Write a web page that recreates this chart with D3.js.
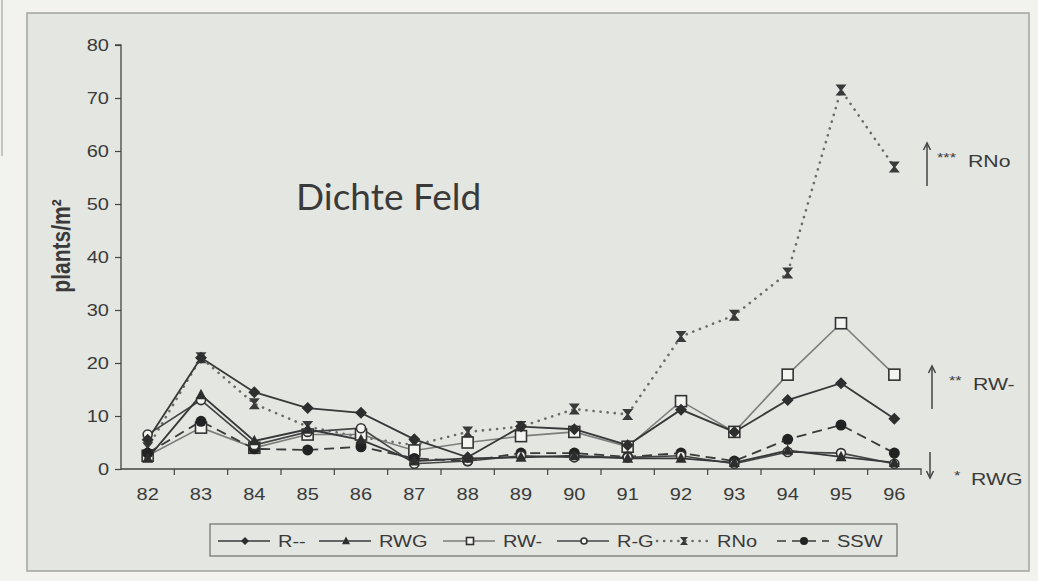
<!DOCTYPE html>
<html>
<head>
<meta charset="utf-8">
<script src="https://cdn.jsdelivr.net/npm/d3@7/dist/d3.min.js"></script>
<style>
  html, body { margin: 0; padding: 0; background: #f2f2ef; }
  svg { display: block; }
  text { font-family: "Liberation Sans", Arial, sans-serif; fill: #3a3a3a; }
</style>
</head>
<body>
<svg id="chart" width="1038" height="581"></svg>
<script>
// Years of observation (x categories)
const years = ["82","83","84","85","86","87","88","89","90","91","92","93","94","95","96"];
// Plant density per treatment, plants/m²
const rMinus = [5.5, 21, 14.5, 11.5, 10.6, 5.6, 2.2, 8.0, 7.5, 4.5, 11.2, 7.0, 13.0, 16.2, 9.5];
const rwg    = [2.0, 14, 5.3, 7.5, 5.5, 1.5, 2.0, 2.2, 2.5, 2.0, 2.0, 1.2, 3.5, 2.3, 1.2];
const rwMinus= [2.5, 7.8, 4.0, 6.5, 6.5, 3.5, 5.0, 6.2, 7.0, 4.2, 12.8, 7.0, 17.8, 27.5, 17.8];
const rg     = [6.5, 13, 4.5, 7.0, 7.7, 1.0, 1.5, 2.5, 2.2, 2.2, 2.5, 1.0, 3.2, 3.0, 1.0];
const rno    = [4.0, 21, 12.3, 8.0, 6.0, 4.5, 7.0, 8.0, 11.3, 10.3, 25, 29, 37, 71.5, 57];
const ssw    = [3.0, 9.0, 3.8, 3.6, 4.2, 2.0, 1.5, 3.0, 3.0, 2.3, 3.0, 1.5, 5.6, 8.3, 3.0];
const seriesNames = ["R--", "RWG", "RW-", "R-G", "RNo", "SSW"];
const yTicks = [0, 10, 20, 30, 40, 50, 60, 70, 80];
const title = "Dichte Feld";
const yLabel = "plants/m²";
// Significance notes at the right margin
const notes = [
  { stars: "***", name: "RNo", dir: "up" },
  { stars: "**",  name: "RW-", dir: "up" },
  { stars: "*",   name: "RWG", dir: "down" }
];

const svg = d3.select("#chart");
const SX = 1.25; // horizontal text stretch

const x = d3.scaleBand().domain(years).range([121, 921]).padding(0);
const y = d3.scaleLinear().domain([0, 80]).range([469, 45]);
const cx = d => x(d) + x.bandwidth() / 2;

// panel frame
svg.append("line").attr("x1", 2).attr("x2", 2).attr("y1", 0).attr("y2", 156)
  .attr("stroke", "#b5b5b2").attr("stroke-width", 1.5);
svg.append("rect").attr("x", 27).attr("y", 13).attr("width", 1002).attr("height", 558)
  .attr("fill", "#e4e6e1").attr("stroke", "#a3a3a0").attr("stroke-width", 1.5);

// y axis
const gy = svg.append("g").attr("transform", "translate(121,0)")
  .call(d3.axisLeft(y).tickValues(yTicks).tickSize(6).tickPadding(0).tickFormat(d3.format("d")));
gy.select(".domain").attr("stroke", "#444").attr("stroke-width", 1.3).attr("d", "M-6,45H0V470");
gy.selectAll(".tick line").attr("stroke", "#444").attr("stroke-width", 1.2);
gy.selectAll(".tick text")
  .attr("x", -12 / SX).attr("transform", `scale(${SX},1)`)
  .style("font-size", "16px").attr("fill", "#3f3f3f");

// x axis: labels at band centres, ticks at band boundaries
const gx = svg.append("g").attr("transform", "translate(0,469)");
gx.call(d3.axisBottom(x).tickSize(0).tickPadding(20));
gx.select(".domain").attr("stroke", "#444").attr("stroke-width", 1.3).attr("d", "M121,0H921V6");
gx.selectAll(".tick text").attr("transform", `scale(${SX},1)`)
  .style("font-size", "16px").attr("fill", "#3f3f3f");
gx.selectAll(".bound").data(years.slice(1)).join("line").attr("class", "bound")
  .attr("x1", d => x(d)).attr("x2", d => x(d)).attr("y1", 0).attr("y2", 6)
  .attr("stroke", "#444").attr("stroke-width", 1.2);

// y axis title
svg.append("text").attr("transform", `translate(70,246) scale(${SX},1) rotate(-90)`)
  .attr("text-anchor", "middle").style("font-size", "21px").style("font-weight", "bold")
  .attr("fill", "#3a3a3a").text(yLabel);

// chart title
svg.append("text").attr("x", 296).attr("y", 210)
  .style("font-family", "Lato, 'Open Sans', sans-serif").style("font-size", "37px")
  .attr("fill", "#111").text(title);

// marker shapes
const hourglass = s => `M${-s},${-s}L${s},${-s}L${s * 0.2},0L${s},${s}L${-s},${s}L${-s * 0.2},0Z`;
const markers = {
  diamond: (g, s) => g.append("path").attr("d", `M0,${-s / 2}L${s / 2},0L0,${s / 2}L${-s / 2},0Z`).attr("fill", "#2e2e2e"),
  triangle: (g, s) => g.append("path").attr("d", `M0,${-s * 0.55}L${s / 2},${s * 0.4}L${-s / 2},${s * 0.4}Z`).attr("fill", "#2e2e2e"),
  square: (g, s) => g.append("rect").attr("x", -s / 2).attr("y", -s / 2).attr("width", s).attr("height", s)
    .attr("fill", "#f4f4f1").attr("stroke", "#333").attr("stroke-width", 1.6),
  ocircle: (g, s) => g.append("circle").attr("r", s / 2).attr("fill", "#f4f4f1").attr("stroke", "#333").attr("stroke-width", 1.6),
  hour: (g, s) => g.append("path").attr("d", hourglass(s / 2)).attr("fill", "#3a3a3a"),
  dot: (g, s) => g.append("circle").attr("r", s / 2).attr("fill", "#222")
};

const series = [
  { name: seriesNames[0], values: rMinus,  color: "#383838", width: 1.8, dash: null, marker: "diamond", size: 12, lsize: 8 },
  { name: seriesNames[1], values: rwg,     color: "#383838", width: 1.8, dash: null, marker: "triangle", size: 11, lsize: 8 },
  { name: seriesNames[2], values: rwMinus, color: "#7d7d7b", width: 1.6, dash: null, marker: "square", size: 11, lsize: 7 },
  { name: seriesNames[3], values: rg,      color: "#444",    width: 1.6, dash: null, marker: "ocircle", size: 9, lsize: 6 },
  { name: seriesNames[4], values: rno,     color: "#6b6b69", width: 2.6, dash: "0.1,7", marker: "hour", size: 11, lsize: 8 },
  { name: seriesNames[5], values: ssw,     color: "#3a3a3a", width: 1.8, dash: "10,6", marker: "dot", size: 11, lsize: 8 }
];

const line = d3.line().x((d, i) => cx(years[i])).y(d => y(d));
const plot = svg.append("g");
// draw in an order that keeps the lower curves visible
const order = [4, 2, 5, 3, 1, 0];
order.forEach(k => {
  const s = series[k];
  plot.append("path").attr("d", line(s.values)).attr("fill", "none")
    .attr("stroke", s.color).attr("stroke-width", s.width)
    .attr("stroke-dasharray", s.dash).attr("stroke-linecap", s.marker === "hour" ? "round" : "butt");
});
order.forEach(k => {
  const s = series[k];
  s.values.forEach((v, i) => {
    const g = plot.append("g").attr("transform", `translate(${cx(years[i])},${y(v)})`);
    markers[s.marker](g, s.size);
  });
});

// legend
const lg = svg.append("g");
lg.append("rect").attr("x", 210).attr("y", 524).attr("width", 687).attr("height", 32)
  .attr("fill", "none").attr("stroke", "#777").attr("stroke-width", 1.3);
const legendX = [218, 319, 443, 557, 657, 777];
series.forEach((s, k) => {
  const x0 = legendX[k], yy = 541;
  const g = lg.append("g");
  g.append("line").attr("x1", x0).attr("x2", x0 + 52).attr("y1", yy).attr("y2", yy)
    .attr("stroke", s.color).attr("stroke-width", s.marker === "hour" ? 2.6 : 1.6)
    .attr("stroke-dasharray", s.marker === "hour" ? "0.1,7" : (s.dash ? "9,6" : null))
    .attr("stroke-linecap", s.marker === "hour" ? "round" : "butt");
  const m = g.append("g").attr("transform", `translate(${x0 + 27},${yy})`);
  markers[s.marker](m, s.lsize);
  g.append("text").attr("transform", `translate(${x0 + 60},${yy + 6}) scale(${SX},1)`)
    .style("font-size", "16px").attr("fill", "#3a3a3a").text(s.name);
});

// right-hand significance notes
const noteY = { RNo: 160, "RW-": 383, RWG: 478 };
const arrowX = { RNo: 927, "RW-": 932, RWG: 930 };
notes.forEach(n => {
  const ny = noteY[n.name], ax = arrowX[n.name];
  const y1 = n.dir === "up" ? ny + 26 : ny - 26;
  const y2 = n.dir === "up" ? ny - 17 : ny;
  const g = svg.append("g").attr("stroke", "#444").attr("stroke-width", 1.5).attr("fill", "none");
  g.append("line").attr("x1", ax).attr("x2", ax).attr("y1", y1).attr("y2", y2);
  const h = n.dir === "up" ? 7 : -7;
  g.append("path").attr("d", `M${ax - 3.5},${y2 + h}L${ax},${y2}L${ax + 3.5},${y2 + h}`);
  const tx = ax + 10;
  svg.append("text").attr("transform", `translate(${tx + (3 - n.stars.length) * 7},${ny + 2}) scale(${SX},1)`)
    .style("font-size", "13px").attr("fill", "#3a3a3a").text(n.stars);
  svg.append("text").attr("transform", `translate(${tx + 31},${ny + 7}) scale(${SX},1)`)
    .style("font-size", "17px").attr("fill", "#3a3a3a").text(n.name);
});
</script>
</body>
</html>
